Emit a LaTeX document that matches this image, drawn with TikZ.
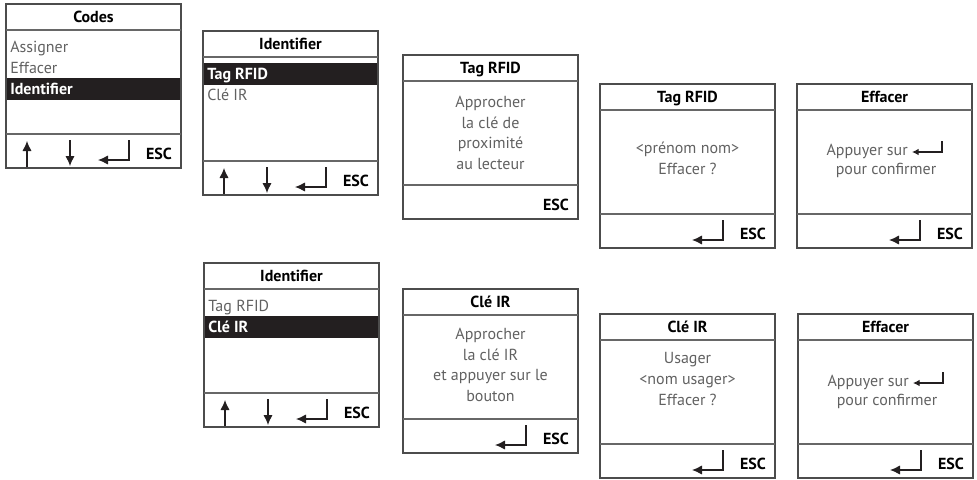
\documentclass[tikz,border=0pt]{standalone}
\usepackage{fontspec}
\setmainfont{PT Sans}
\usetikzlibrary{arrows.meta,calc}

\definecolor{txtgray}{gray}{0.38}
\definecolor{linegray}{gray}{0.3}
\definecolor{barblack}{HTML}{231F20}

\tikzset{
  scrframe/.style={draw=linegray,line width=0.8pt},
  scrsep/.style={draw=linegray!85,line width=0.8pt},
  scrtitle/.style={font=\fontsize{12}{14}\selectfont\bfseries,text=black,inner sep=0pt,anchor=base},
  scritem/.style={font=\fontsize{12}{14}\selectfont,text=txtgray,inner sep=0pt,anchor=base west},
  scrsel/.style={font=\fontsize{12}{14}\selectfont\bfseries,text=white,inner sep=0pt,anchor=base west},
  scrmsg/.style={font=\fontsize{12}{15.5}\selectfont,text=txtgray,align=center,inner sep=0pt},
  scresc/.style={font=\fontsize{12}{14}\selectfont\bfseries,text=black,inner sep=0pt,anchor=base},
  scrkey/.style={draw=barblack,line width=0.9pt,-{Latex[length=7.5pt,width=7pt]}},
  scrkeysmall/.style={draw=barblack,line width=0.8pt,-{Latex[length=5pt,width=5pt]}},
}

% one screen, drawn in local pixel coordinates
\newcommand{\scrbox}[2]{%
  \draw[scrframe] (0,0) rectangle (175,164);
  \draw[scrsep] (0,26) -- (175,26);
  \draw[scrsep] (0,130) -- (175,130);
  \node[scrtitle] (#1-t) at (87.5,18) {#2};
  \node[scresc] (#1-esc) at (153,155) {ESC};
}
\newcommand{\screnter}{%
  \draw[scrkey] (123,136) -- (123,156) -- (92,156);
}
\newcommand{\scrnav}{%
  \draw[scrkey] (21,163) -- (21,137);
  \draw[scrkey] (64,136) -- (64,162);
  \screnter
}
\newcommand{\scrbar}[1]{%
  \fill[barblack] (0,#1-16.5) rectangle (175,#1+5.5);
}

\begin{document}
\begin{tikzpicture}[x=0.75pt,y=-0.75pt]
\useasboundingbox (0,0) rectangle (977,479);

% Codes
\begin{scope}[shift={(6,4)}]
\scrbar{90}
\scrbox{codes}{Codes}
\node[scritem] (codes-a) at (4,48) {Assigner};
\node[scritem] (codes-b) at (4,69) {Effacer};
\node[scrsel] (codes-c) at (4,90) {Identifier};
\scrnav
\end{scope}

% Identifier -> Tag RFID
\begin{scope}[shift={(203,31)}]
\scrbar{48}
\scrbox{idrf}{Identifier}
\node[scrsel] (idrf-a) at (4,48) {Tag RFID};
\node[scritem] (idrf-b) at (4,69) {Clé IR};
\scrnav
\end{scope}

% Tag RFID
\begin{scope}[shift={(403,55)}]
\scrbox{rf}{Tag RFID}
\node[scrmsg] (rf-m) at (87.5,78) {Approcher\\la clé de\\proximité\\au lecteur};
\end{scope}

\begin{scope}[shift={(600,84)}]
\scrbox{rfdel}{Tag RFID}
\node[scrmsg] (rfdel-m) at (87.5,74) {<prénom nom>\\Effacer ?};
\screnter
\end{scope}

\begin{scope}[shift={(797,84)}]
\scrbox{rfok}{Effacer}
\node[scrmsg,anchor=base east] (rfok-a) at (111,71) {Appuyer sur};
\draw[scrkeysmall] (145,57) -- (145,68) -- (115,68);
\node[scrmsg] (rfok-b) at (89,86) {pour confirmer};
\screnter
\end{scope}

% Identifier -> Cle IR
\begin{scope}[shift={(204,263)}]
\scrbar{69}
\scrbox{idir}{Identifier}
\node[scritem] (idir-a) at (4,48) {Tag RFID};
\node[scrsel] (idir-b) at (4,69) {Clé IR};
\scrnav
\end{scope}

% Cle IR
\begin{scope}[shift={(403,289)}]
\scrbox{ir}{Clé IR}
\node[scrmsg] (ir-m) at (87.5,76) {Approcher\\la clé IR\\et appuyer sur le\\bouton};
\screnter
\end{scope}

\begin{scope}[shift={(600,314)}]
\scrbox{irdel}{Clé IR}
\node[scrmsg] (irdel-m) at (87.5,65) {Usager\\<nom usager>\\Effacer ?};
\screnter
\end{scope}

\begin{scope}[shift={(798,314)}]
\scrbox{irok}{Effacer}
\node[scrmsg,anchor=base east] (irok-a) at (111,72) {Appuyer sur};
\draw[scrkeysmall] (145,58) -- (145,69) -- (115,69);
\node[scrmsg] (irok-b) at (89,87) {pour confirmer};
\screnter
\end{scope}
\end{tikzpicture}
\end{document}
